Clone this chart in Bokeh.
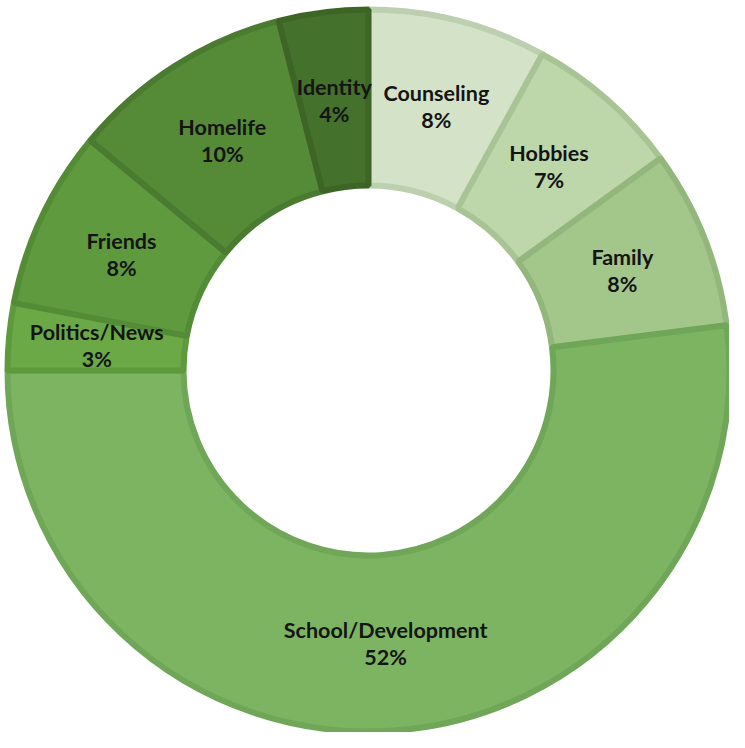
import math
from bokeh.plotting import figure
from bokeh.models import ColumnDataSource
from bokeh.core.properties import value
from bokeh.embed import file_html
from bokeh.resources import INLINE

categories = ["Counseling", "Hobbies", "Family", "School/Development",
              "Politics/News", "Friends", "Homelife", "Identity"]
percents = [8, 7, 8, 52, 3, 8, 10, 4]
fill_colors = ["#d4e3c8", "#bdd6aa", "#a3c78b", "#7db462",
               "#6aa945", "#5f9a3e", "#558a37", "#44712b"]
edge_colors = ["#bccfae", "#a8c495", "#92b67c", "#70a657",
               "#5e9a3c", "#548b36", "#4a7b30", "#3c6526"]

total = sum(percents)
starts, ends, lx, ly = [], [], [], []
OUTER, INNER = 361, 185
mid_r = (OUTER + INNER) / 2
cum = 0.0
for v in percents:
    a0 = math.pi / 2 - 2 * math.pi * cum / total
    a1 = math.pi / 2 - 2 * math.pi * (cum + v) / total
    starts.append(a0)
    ends.append(a1)
    am = (a0 + a1) / 2
    lx.append(mid_r * math.cos(am))
    ly.append(mid_r * math.sin(am))
    cum += v

src = ColumnDataSource(dict(
    start=starts, end=ends, fill=fill_colors, edge=edge_colors,
    name=categories, pct=[f"{v}%" for v in percents], x=lx, y=ly,
))

W, H = 729, 732
cx, cy = 368, 370  # pixel position of the center within the plot
p = figure(width=W, height=H, x_range=(-cx, W - cx), y_range=(-(H - cy), cy),
           output_backend="svg", toolbar_location=None, min_border=0,
           background_fill_color="white", border_fill_color="white")
p.axis.visible = False
p.grid.visible = False
p.outline_line_color = None

p.annular_wedge(x=0, y=0, inner_radius=INNER, outer_radius=OUTER,
                start_angle="start", end_angle="end", direction="clock",
                fill_color="fill", line_color="edge", line_width=6,
                source=src)

common = dict(text_font=value("Lato"), text_font_style="bold",
              text_font_size="21.5px", text_color="#141414",
              text_align="center", text_baseline="middle", source=src)
p.text(x="x", y="y", text="name", y_offset=-13, **common)
p.text(x="x", y="y", text="pct", y_offset=14, **common)

open("out.html", "w").write(file_html(p, INLINE))
